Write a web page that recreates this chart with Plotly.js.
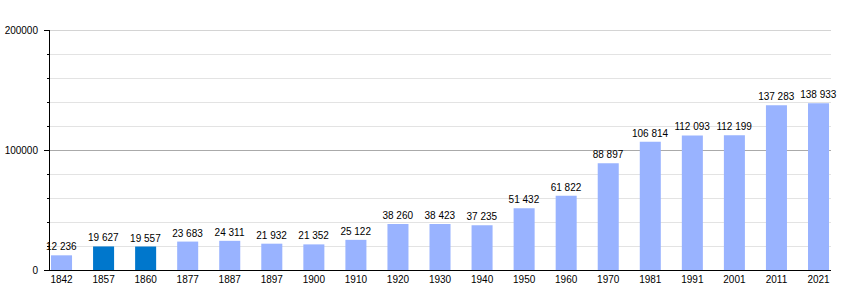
<!DOCTYPE html>
<html>
<head>
<meta charset="utf-8">
<script src="https://cdn.plot.ly/plotly-3.0.1.min.js"></script>
<style>
html,body{margin:0;padding:0;background:#fff;}
#chart{width:860px;height:300px;}
</style>
</head>
<body>
<div id="chart"></div>
<script>
var years = ['1842','1857','1860','1877','1887','1897','1900','1910','1920','1930','1940','1950','1960','1970','1981','1991','2001','2011','2021'];
var population = [12236,19627,19557,23683,24311,21932,21352,25122,38260,38423,37235,51432,61822,88897,106814,112093,112199,137283,138933];
var highlightYears = ['1857','1860'];
var yTickValues = [0,100000,200000];
var yMax = 200000;

var colors = years.map(function(y){ return highlightYears.indexOf(y) >= 0 ? '#0077cc' : '#99b3ff'; });

var trace = {
  type: 'bar',
  x: years,
  y: population,
  width: 0.5,
  marker: {color: colors, line: {width: 0}},
  texttemplate: '%{y:,}',
  textposition: 'outside',
  constraintext: 'none',
  textfont: {family: 'Liberation Sans, Arial, sans-serif', size: 10, color: '#000'},
  cliponaxis: false,
  hoverinfo: 'x+y'
};

var layout = {
  width: 860,
  height: 300,
  margin: {l: 50, r: 29, t: 30, b: 30, pad: 0},
  paper_bgcolor: '#fff',
  plot_bgcolor: '#fff',
  separators: '. ',
  showlegend: false,
  font: {family: 'Liberation Sans, Arial, sans-serif', size: 10, color: '#000'},
  xaxis: {
    type: 'category',
    range: [-0.274, 18.297],
    showline: true,
    linecolor: '#000',
    linewidth: 1,
    ticks: '',
    showgrid: false,
    zeroline: false,
    tickfont: {size: 10, color: '#000'},
    fixedrange: true
  },
  yaxis: {
    range: [0, yMax],
    tickvals: yTickValues,
    tickformat: 'd',
    showline: true,
    linecolor: '#000',
    linewidth: 1,
    ticks: 'outside',
    ticklen: 5,
    tickcolor: '#000',
    ticklabelstandoff: 4,
    showgrid: true,
    gridcolor: '#aaaaaa',
    gridwidth: 1,
    zeroline: false,
    tickfont: {size: 10, color: '#000'},
    minor: {
      dtick: 20000,
      tick0: 0,
      ticks: 'outside',
      ticklen: 2,
      tickcolor: '#000',
      showgrid: true,
      gridcolor: '#e3e3e3',
      gridwidth: 1
    },
    fixedrange: true
  },
  shapes: [{
    type: 'line', xref: 'paper', x0: 0, x1: 1, yref: 'y', y0: yMax, y1: yMax,
    line: {color: '#aaaaaa', width: 1}, layer: 'below'
  }]
};

Plotly.newPlot('chart', [trace], layout, {displayModeBar: false, staticPlot: true});
</script>
</body>
</html>
